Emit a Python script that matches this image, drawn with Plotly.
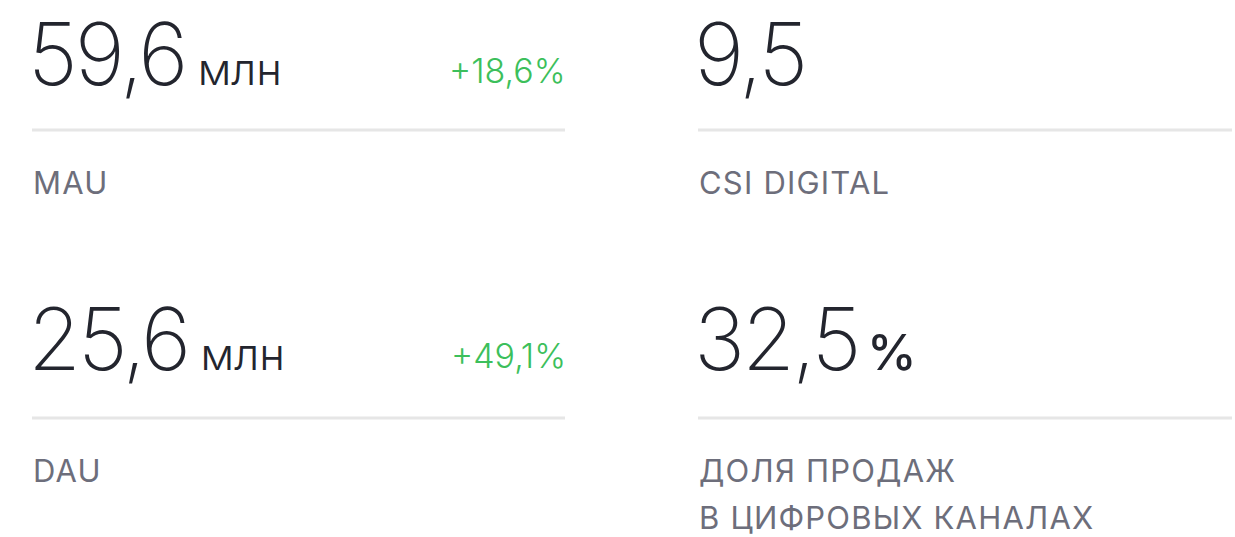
import plotly.graph_objects as go

# KPI data
values = ["59,6", "9,5", "25,6", "32,5"]
units = ["млн", "", "млн", "%"]
deltas = ["+18,6%", "", "+49,1%", ""]
labels = ["MAU", "CSI DIGITAL", "DAU", "ДОЛЯ ПРОДАЖ<br>В ЦИФРОВЫХ КАНАЛАХ"]

W, H = 1235, 537
col_left = [32, 698]
col_right = [565, 1232]
row_base = [85, 370]
row_line = [130, 418]
row_label = [170, 458]
label_step = 47

DARK = "#23252e"
GRAY = "#6d6e7b"
GREEN = "#3cbf5b"
LINE = "#e6e6e6"
FONT = "Inter"

fig = go.Figure()
fig.add_trace(go.Scatter(x=[0, W], y=[0, H], mode="markers", marker=dict(opacity=0), hoverinfo="skip", showlegend=False))

ann = []
shapes = []
for i in range(4):
    c = i % 2
    r = i // 2
    xl, xr = col_left[c], col_right[c]
    unit_html = ""
    if units[i]:
        if units[i] == "%":
            unit_html = "<span style='font-size:50px;font-weight:500;letter-spacing:0px'>&#8201;%</span>"
        else:
            unit_html = "<span style='font-size:44px;font-weight:300;letter-spacing:0px'> " + units[i] + "</span>"
    num_html = "<span style='letter-spacing:-3px'>" + values[i] + "</span>"
    ann.append(dict(x=xl - 6, y=row_base[r] + 23, xref="x", yref="y", xanchor="left", yanchor="bottom",
                    text=num_html + unit_html, showarrow=False,
                    font=dict(family=FONT, size=86, color=DARK, weight=200)))
    if deltas[i]:
        ann.append(dict(x=xr + 3, y=row_base[r] + 8, xref="x", yref="y", xanchor="right", yanchor="bottom",
                        text=deltas[i], showarrow=False,
                        font=dict(family=FONT, size=34, color=GREEN, weight=300)))
    shapes.append(dict(type="line", xref="x", yref="y", x0=xl, x1=xr, y0=row_line[r], y1=row_line[r],
                       line=dict(color=LINE, width=3)))
    for k, part in enumerate(labels[i].split("<br>")):
        ann.append(dict(x=xl - 1, y=row_label[r] - 8 + k * label_step, xref="x", yref="y",
                        xanchor="left", yanchor="top",
                        text="<span style='letter-spacing:1.2px'>" + part + "</span>", showarrow=False, align="left",
                        font=dict(family=FONT, size=31, color=GRAY, weight=400)))

fig.update_layout(
    width=W, height=H, margin=dict(l=0, r=0, t=0, b=0),
    paper_bgcolor="white", plot_bgcolor="white",
    xaxis=dict(range=[0, W], visible=False, fixedrange=True),
    yaxis=dict(range=[H, 0], visible=False, fixedrange=True),
    annotations=ann, shapes=shapes, showlegend=False,
)
fig.write_html("out.html", config={"displayModeBar": False},
               post_script="document.body.style.margin='0';document.body.style.overflow='hidden';")
